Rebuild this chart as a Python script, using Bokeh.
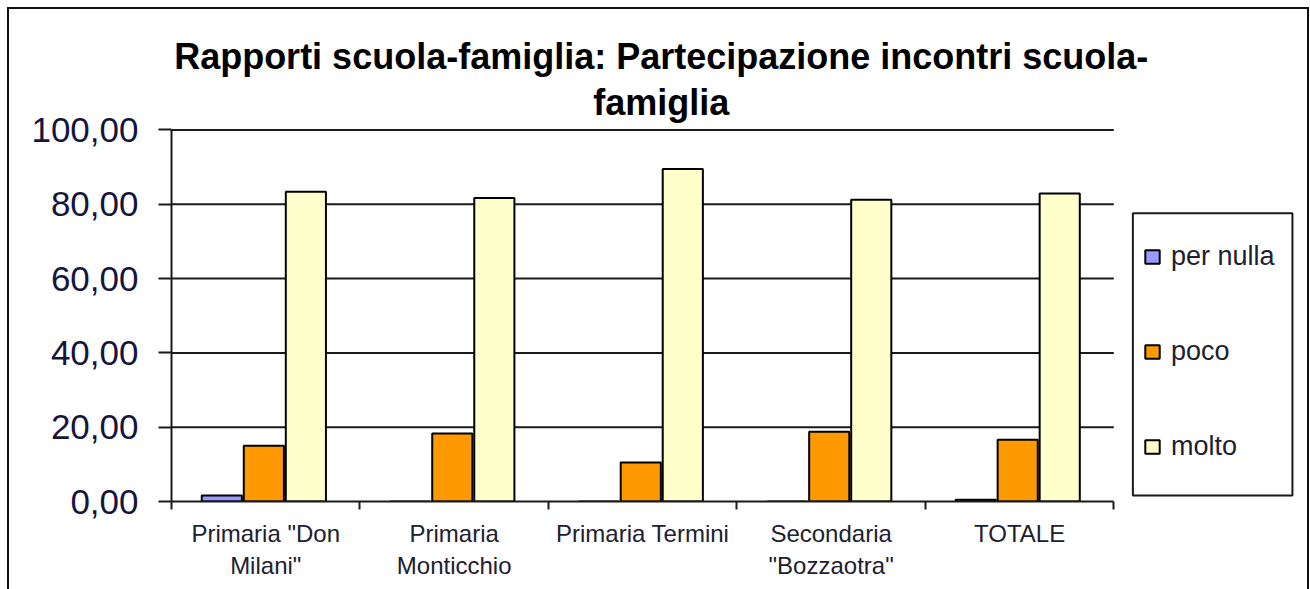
from bokeh.plotting import figure
from bokeh.models import (Range1d, LinearAxis, FixedTicker, Legend,
                          LegendItem, BoxAnnotation, Label, ColumnDataSource)
from bokeh.transform import dodge
from bokeh.embed import file_html
from bokeh.resources import INLINE

# ---------------- data ----------------
categories = ['Primaria "Don Milani"', 'Primaria Monticchio', 'Primaria Termini',
              'Secondaria "Bozzaotra"', 'TOTALE']
tick_labels = ['Primaria "Don\nMilani"', 'Primaria\nMonticchio', 'Primaria Termini',
               'Secondaria\n"Bozzaotra"', 'TOTALE']
series = ['per nulla', 'poco', 'molto']
per_nulla = [1.6, 0.0, 0.0, 0.0, 0.5]
poco = [15.0, 18.3, 10.5, 18.8, 16.6]
molto = [83.4, 81.7, 89.5, 81.2, 82.9]
y_ticks = [0, 20, 40, 60, 80, 100]
y_tick_labels = ["0,00", "20,00", "40,00", "60,00", "80,00", "100,00"]
colors = ["#9999FF", "#FF9900", "#FFFFCC"]
title_text = "Rapporti scuola-famiglia: Partecipazione incontri scuola-\nfamiglia"

# ---------------- layout (page pixels) ----------------
FONT = "Liberation Sans"
INK = "#1a1a1a"
FIG_X, FIG_Y, FIG_W, FIG_H, BORDER = 7, 7, 1302, 582, 2
PLOT_L, PLOT_R, PLOT_T, PLOT_B = 171, 1110, 129, 499   # area of the bar groups
FRAME_R, FRAME_T = 1306, 10                            # frame extends under legend/title

n = len(categories)
y_max = y_ticks[-1]
ux = (PLOT_R - PLOT_L) / n          # px per category
uy = (PLOT_B - PLOT_T) / y_max      # px per unit


def px2x(px):
    return (px - PLOT_L) / ux


def px2y(py):
    return (PLOT_B - py) / uy


centres = [i + 0.5 for i in range(n)]
bounds = list(range(n + 1))

src = ColumnDataSource(dict(cat=categories, pos=centres,
                            per_nulla=per_nulla, poco=poco, molto=molto))

p = figure(width=FIG_W, height=FIG_H, title=None,
           x_range=Range1d(0, px2x(FRAME_R)), y_range=Range1d(0, px2y(FRAME_T)),
           x_axis_location=None,
           output_backend="svg", toolbar_location=None,
           min_border_left=PLOT_L - FIG_X - BORDER,
           min_border_right=FIG_X + FIG_W - BORDER - FRAME_R,
           min_border_top=FRAME_T - FIG_Y - BORDER,
           min_border_bottom=FIG_Y + FIG_H - PLOT_B)
p.outline_line_color = None
p.background_fill_color = "white"
p.border_fill_color = "white"
p.xgrid.visible = False
p.ygrid.visible = False
p.styles = {"margin-left": f"{FIG_X}px", "margin-top": f"{FIG_Y}px",
            "border-top": f"{BORDER}px solid #111",
            "border-left": f"{BORDER}px solid #111",
            "border-right": f"{BORDER}px solid #111"}

# horizontal gridlines limited to the bar area
grid_y = y_ticks[1:]
p.segment(x0=[0] * len(grid_y), x1=[n] * len(grid_y), y0=grid_y, y1=grid_y,
          line_color=INK, line_width=2)

offsets = [-0.233, -0.010, 0.213]
fields = ["per_nulla", "poco", "molto"]
renderers = []
for f, off, c in zip(fields, offsets, colors):
    r = p.vbar(x=dodge("pos", off), top=f, width=0.213,
               source=src, fill_color=c, line_color="black", line_width=2)
    renderers.append(r)

# y axis
yax = p.yaxis[0]
yax.bounds = (0, y_max)
yax.ticker = FixedTicker(ticks=y_ticks)
yax.major_label_overrides = {t: l for t, l in zip(y_ticks, y_tick_labels)}
yax.major_label_text_font = FONT
yax.major_label_text_font_size = "35px"
yax.major_label_text_color = "#14143c"
yax.major_tick_out = 13
yax.major_tick_in = 0
yax.minor_tick_out = 0
yax.minor_tick_in = 0
yax.major_label_standoff = 20
yax.axis_line_color = INK
yax.axis_line_width = 2
yax.major_tick_line_color = INK
yax.major_tick_line_width = 2

# x axis: ticks at group boundaries, labels at group centres
xax = LinearAxis(bounds=(0, n),
                 ticker=FixedTicker(ticks=centres, minor_ticks=bounds),
                 major_label_overrides={c: l for c, l in zip(centres, tick_labels)})
xax.major_tick_out = 0
xax.major_tick_in = 0
xax.minor_tick_out = 8
xax.minor_tick_in = 0
xax.minor_tick_line_color = INK
xax.minor_tick_line_width = 2
xax.axis_line_color = INK
xax.axis_line_width = 2
xax.major_label_standoff = 10
xax.major_label_text_font = FONT
xax.major_label_text_font_size = "24px"
xax.major_label_text_color = "#202030"
xax.major_label_text_line_height = 1.22
p.add_layout(xax, "below")

# title (centred over the whole chart)
p.add_layout(Label(x=px2x(659), y=px2y(79), text=title_text,
                   text_align="center", text_baseline="middle",
                   text_font=FONT, text_font_size="36px", text_font_style="bold",
                   text_color="black", text_line_height=1.12))

# legend box and legend
p.add_layout(BoxAnnotation(left=px2x(1129), right=px2x(1288),
                           top=px2y(212), bottom=px2y(493),
                           fill_color="white", fill_alpha=1,
                           line_color=INK, line_alpha=1, line_width=2))
legend = Legend(items=[LegendItem(label=s, renderers=[r]) for s, r in zip(series, renderers)],
                location=(1143 - PLOT_L, PLOT_B - 460), orientation="vertical",
                padding=0, margin=0, spacing=64,
                glyph_width=18, glyph_height=17, label_height=17,
                label_standoff=10,
                label_text_font=FONT, label_text_font_size="27px",
                label_text_color="#202030",
                border_line_color=None, background_fill_alpha=0)
p.add_layout(legend)

open("out.html", "w").write(file_html(p, INLINE))
